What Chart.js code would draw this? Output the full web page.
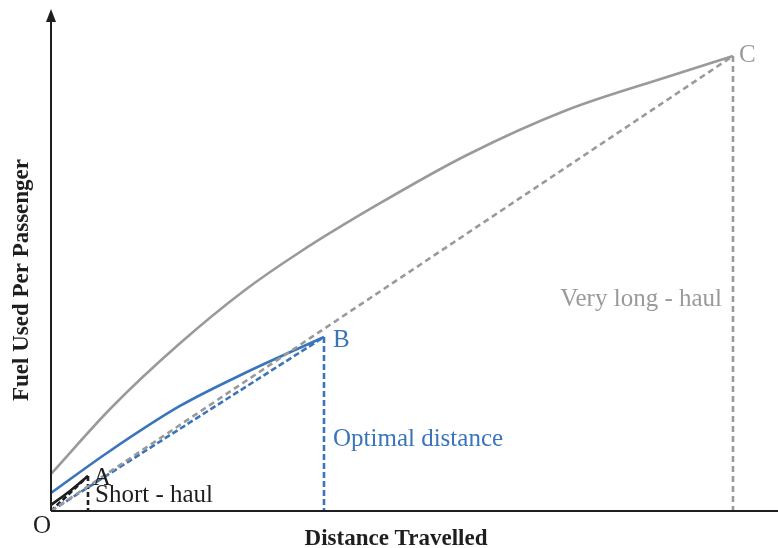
<!DOCTYPE html>
<html>
<head>
<meta charset="utf-8">
<script src="https://cdn.jsdelivr.net/npm/chart.js@4"></script>
<style>
html,body{margin:0;padding:0;background:#fff;}
#wrap{width:778px;height:548px;}
</style>
</head>
<body>
<div id="wrap"><canvas id="c" width="778" height="548"></canvas></div>
<script>
// Abstract units: x = distance (0..100), y = fuel per passenger (0..100)
const longX  = [0, 8.39, 17.47, 26.69, 34.25, 44.84, 57.22, 70.98, 84.73, 93.81];
const longY  = [7.39, 20.76, 33.13, 44.11, 51.70, 61.08, 71.06, 80.04, 86.63, 90.82];
const optX   = [0, 7.70, 17.74, 26.96, 37.55];
const optY   = [3.59, 11.58, 20.96, 27.74, 34.73];
const shortX = [0, 2.61, 5.09];
const shortY = [1.20, 3.99, 6.99];
const pointNames = ['A', 'B', 'C'];
const regionNames = ['Short - haul', 'Optimal distance', 'Very long - haul'];
const axisTitles = ['Distance Travelled', 'Fuel Used Per Passenger'];
const originName = 'O';

const GRAY = '#9a9a9a', BLUE = '#3a74bb', BLACK = '#1e1e1e';

function pts(xs, ys){ return xs.map((x,i)=>({x:x, y:ys[i]})); }
function last(xs, ys){ return {x: xs[xs.length-1], y: ys[ys.length-1]}; }
const A = last(shortX, shortY), B = last(optX, optY), C = last(longX, longY);

function curve(data, color){
  return {data, borderColor: color, borderWidth: 2.6, pointRadius: 0, showLine: true,
    fill: false, tension: 0.4, cubicInterpolationMode: 'monotone', clip: false};
}
function dashed(data, color, dash){
  return {data, borderColor: color, borderWidth: 2.6, pointRadius: 0, showLine: true,
    fill: false, tension: 0, borderDash: dash, clip: false};
}

const datasets = [
  curve(pts(longX, longY), GRAY),
  dashed([{x:0,y:0}, C], GRAY, [6,4]),
  dashed([C, {x:C.x,y:0}], GRAY, [6,4]),
  curve(pts(optX, optY), BLUE),
  dashed([{x:0,y:0}, B], BLUE, [6,3]),
  dashed([B, {x:B.x,y:0}], BLUE, [6,3]),
  curve(pts(shortX, shortY), BLACK),
  dashed([{x:0,y:0}, A], BLACK, [5,3]),
  dashed([A, {x:A.x,y:0}], BLACK, [5,3])
];

const decor = {
  id: 'decor',
  afterDatasetsDraw(chart){
    const ctx = chart.ctx, xs = chart.scales.x, ys = chart.scales.y, ca = chart.chartArea;
    const px = v => xs.getPixelForValue(v), py = v => ys.getPixelForValue(v);
    ctx.save();
    // axes
    ctx.strokeStyle = BLACK; ctx.lineWidth = 2;
    ctx.beginPath();
    ctx.moveTo(ca.left, ca.bottom); ctx.lineTo(ca.right, ca.bottom);
    ctx.moveTo(ca.left, ca.bottom); ctx.lineTo(ca.left, ca.top + 8);
    ctx.stroke();
    ctx.fillStyle = BLACK;
    ctx.beginPath();
    ctx.moveTo(ca.left, ca.top - 1);
    ctx.lineTo(ca.left - 5, ca.top + 12);
    ctx.lineTo(ca.left + 5, ca.top + 12);
    ctx.closePath(); ctx.fill();

    const serif = '"Liberation Serif", "Times New Roman", serif';
    ctx.textBaseline = 'middle';
    ctx.font = '25px ' + serif;
    // O
    ctx.fillStyle = BLACK; ctx.textAlign = 'center';
    ctx.fillText(originName, ca.left - 9, ca.bottom + 15);
    // point names
    ctx.textAlign = 'left';
    ctx.fillStyle = BLACK; ctx.fillText(pointNames[0], px(A.x) + 5, py(A.y) + 2);
    ctx.fillStyle = BLUE;  ctx.fillText(pointNames[1], px(B.x) + 9, py(B.y) + 3);
    ctx.fillStyle = GRAY;  ctx.fillText(pointNames[2], px(C.x) + 6, py(C.y) - 1);
    // region names
    ctx.fillStyle = BLACK; ctx.textAlign = 'left';
    ctx.fillText(regionNames[0], px(A.x) + 7, ca.bottom - 16);
    ctx.fillStyle = BLUE;
    ctx.fillText(regionNames[1], px(B.x) + 9, py(B.y * 0.41));
    ctx.fillStyle = GRAY; ctx.textAlign = 'right';
    ctx.fillText(regionNames[2], px(C.x) - 11, py(C.y * 0.465));
    // axis titles
    ctx.fillStyle = BLACK;
    ctx.font = 'bold 23px ' + serif;
    ctx.textAlign = 'center';
    ctx.fillText(axisTitles[0], 396, ca.bottom + 28);
    ctx.save();
    ctx.translate(22, 280);
    ctx.rotate(-Math.PI/2);
    ctx.fillText(axisTitles[1], 0, 0);
    ctx.restore();
    ctx.restore();
  }
};

new Chart(document.getElementById('c'), {
  type: 'scatter',
  data: {datasets},
  options: {
    responsive: false,
    animation: false,
    layout: {padding: {left: 51, right: 0, top: 10, bottom: 37}},
    plugins: {legend: {display: false}, tooltip: {enabled: false}},
    scales: {
      x: {type: 'linear', min: 0, max: 100, display: false},
      y: {type: 'linear', min: 0, max: 100, display: false}
    }
  },
  plugins: [decor]
});
</script>
</body>
</html>
